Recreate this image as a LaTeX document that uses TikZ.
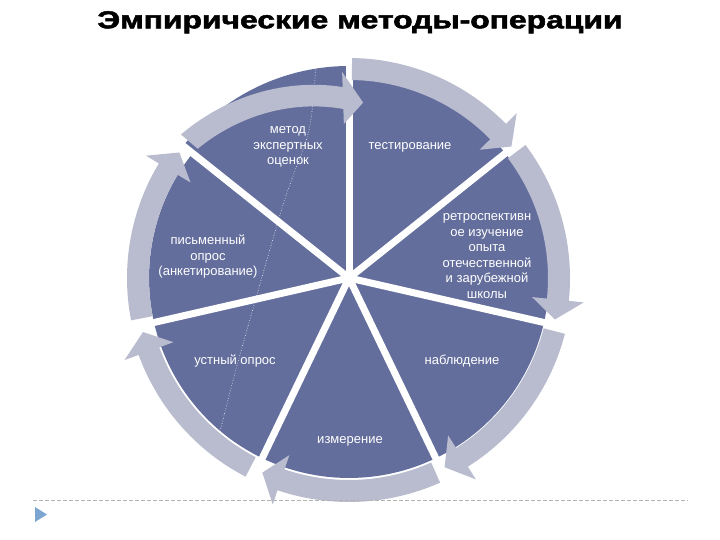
\documentclass[tikz,border=0pt]{standalone}
\usepackage{fontspec}
\setmainfont{Liberation Sans}
\newfontfamily\titlefont{Liberation Sans}[BoldFeatures={FakeBold=2}]
\usetikzlibrary{calc}
\definecolor{segblue}{RGB}{99,110,157}
\definecolor{ringgrey}{RGB}{184,188,206}
\definecolor{markblue}{RGB}{125,165,210}

\begin{document}
\begin{tikzpicture}[x=1pt,y=1pt,
  segfill/.style={fill=segblue},
  sepline/.style={draw=white,line width=7pt},
  ringarrow/.style={fill=ringgrey},
  seglabel/.style={text=white,align=center,font=\fontsize{13}{15.5}\selectfont}]
\useasboundingbox (0,0) rectangle (720,540);
\node[anchor=base] (title) at (360,511.7) {\scalebox{1.30}[1]{\titlefont\fontsize{24.5}{24.5}\selectfont\bfseries Эмпирические методы-операции}};

\begin{scope}[shift={(349,262)}]
\foreach \k in {0,...,6}{
  \pgfmathsetmacro\bs{90-\k*360/7}
  \pgfmathsetmacro\rad{\k==6 ? 212 : 200}
  \fill[segfill] (0,0) -- (\bs:\rad) arc[start angle=\bs, delta angle=-360/7, radius=\rad] -- cycle;
}
\end{scope}

\draw[white,dotted,line width=0.6pt] plot[smooth] coordinates {(316,478) (309,410) (283,335) (238,178) (218,100)};

\begin{scope}[shift={(349,262)}]
\coordinate (hub) at (0,0);
\foreach \k in {0,...,6}
  \draw[sepline] (hub) -- ({90-\k*360/7}:222);
\foreach \angS/\angE/\radS/\radE in {89.2/39/209/209, 37/-11.4/210/210, -14.5/-63.2/212/212,
    -66/-114/213/213, -117.5/-165.3/213/213, -169/-216.5/211/211, 139.5/85.4/210/176}{
  \pgfmathsetmacro\angB{\angE+20/\radE*180/pi}
  \pgfmathsetmacro\radB{\radS+(\radE-\radS)*(\angS-\angB)/(\angS-\angE)}
  \fill[ringarrow] plot[domain=\angS:\angB,samples=30] ({\x}:{\radS+(\radE-\radS)*(\angS-\x)/(\angS-\angE)+11})
    -- (\angB:{\radB+26}) -- (\angE:\radE) -- (\angB:{\radB-26})
    -- plot[domain=\angB:\angS,samples=30] ({\x}:{\radS+(\radE-\radS)*(\angS-\x)/(\angS-\angE)-11}) -- cycle;
}
\end{scope}

\node[seglabel] (expert) at (288,393) {метод\\экспертных\\оценок};
\node[seglabel] (testing) at (410,393) {тестирование};
\node[seglabel] (retro) at (487,284) {ретроспективн\\ое изучение\\опыта\\отечественной\\и зарубежной\\школы};
\node[seglabel] (written) at (208,283) {письменный\\опрос\\(анкетирование)};
\node[seglabel] (oral) at (235,179) {устный опрос};
\node[seglabel] (observe) at (462,179) {наблюдение};
\node[seglabel] (measure) at (350,99) {измерение};

\draw[gray!60,dash pattern=on 4pt off 2pt,line width=0.8pt] (33,40) -- (688,40);
\fill[markblue] (35,33) -- (47,25.5) -- (35,18) -- cycle;
\end{tikzpicture}
\end{document}
